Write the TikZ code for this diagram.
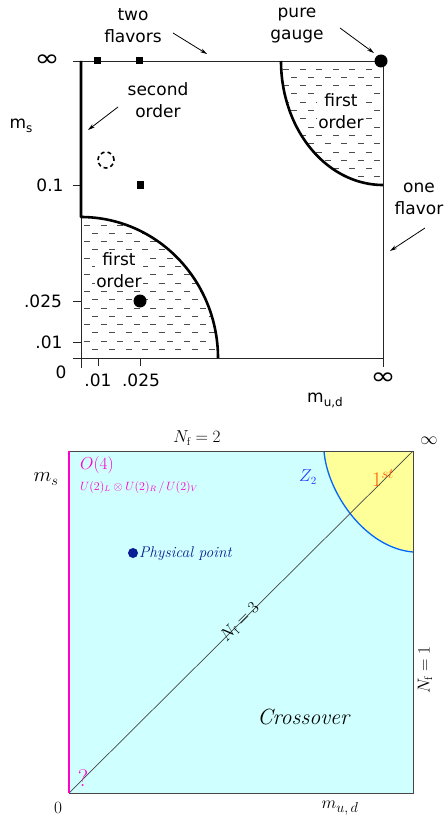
\documentclass[tikz,border=0pt]{standalone}
\usepackage{fontspec}
\usepackage{amsmath,amssymb}
\usetikzlibrary{arrows.meta}
\newfontfamily\plotfont{DejaVu Sans}
\definecolor{cyanfill}{RGB}{208,255,255}
\definecolor{yel}{RGB}{255,255,153}
\definecolor{mag}{RGB}{255,0,204}
\definecolor{curveblue}{RGB}{0,102,255}
\definecolor{zblue}{RGB}{40,60,255}
\definecolor{stcol}{RGB}{255,90,0}
\definecolor{navy}{RGB}{10,30,150}
\definecolor{framegray}{RGB}{70,70,70}
\begin{document}
\begin{tikzpicture}[x=1pt,y=-1pt,
  lbl/.style={font=\plotfont\fontsize{17}{22}\selectfont, align=center, inner sep=0pt},
  inflbl/.style={font=\plotfont\fontsize{24}{24}\selectfont, xscale=1.25, inner sep=0pt},
  thinax/.style={line width=0.9pt, black!85},
  thickln/.style={line width=2.6pt, line join=round},
  arr/.style={line width=0.8pt, -{Stealth[length=7pt,width=4pt]}},
  hatch/.style={line width=0.9pt, black!70, dash pattern=on 6pt off 10.6pt},
  mlbl/.style={inner sep=0pt, font=\fontsize{16}{16}\selectfont}]
\useasboundingbox (0,0) rectangle (446,821);
% ================= TOP PLOT =================
\coordinate (TL) at (81,61);
\coordinate (TR) at (383,61);
\coordinate (BL) at (81,358);
\coordinate (BR) at (383,358);
% hatch bottom-left
\begin{scope}
\clip (81,217) -- plot[domain=90:0,samples=40] ({81+137*cos(\x)},{358-141*sin(\x)}) -- (81,358) -- cycle;
\foreach \r in {0,...,15} {
  \pgfmathsetmacro\yy{225+8.3*\r}
  \pgfmathsetmacro\ph{mod(\r,2)*8.3}
  \draw[hatch, dash phase=\ph pt] (84,\yy) -- (383,\yy);
}
\end{scope}
% hatch top-right
\begin{scope}
\clip (281,61) -- plot[domain=0:90,samples=40] ({383-102*cos(\x)},{61+124*sin(\x)}) -- (383,61) -- cycle;
\foreach \r in {0,...,13} {
  \pgfmathsetmacro\yy{69+8.3*\r}
  \pgfmathsetmacro\ph{mod(\r,2)*8.3}
  \draw[hatch, dash phase=\ph pt] (283,\yy) -- (383,\yy);
}
\end{scope}
% axes
\draw[thinax] (73,61) -- (TR) -- (383,367);
\draw[thinax] (73,358) -- (BR);
\draw[thinax] (81,217) -- (81,368);
\draw[thinax] (73,185) -- (81,185);
\draw[thinax] (73,301) -- (81,301);
\draw[thinax] (73,342) -- (81,342);
\draw[thinax] (98,358) -- (98,366);
\draw[thinax] (140,358) -- (140,366);
% thick boundaries
\draw[thickln] (TL) -- plot[domain=90:0,samples=60] ({81+137*cos(\x)},{358-141*sin(\x)});
\draw[thickln] plot[domain=0:90,samples=60] ({383-102*cos(\x)},{61+124*sin(\x)});
% markers
\node[fill, minimum size=7pt, inner sep=0pt] (sq1) at (97,61) {};
\node[fill, minimum size=7pt, inner sep=0pt] (sq2) at (139,61) {};
\node[fill, minimum size=7pt, inner sep=0pt] (sq3) at (140,185) {};
\node[circle, fill, minimum size=13pt, inner sep=0pt] (pg) at (381,61) {};
\node[circle, fill, minimum size=13pt, inner sep=0pt] (dot) at (140,301) {};
\node[circle, draw, line width=1.6pt, dash pattern=on 4pt off 3pt, minimum size=16pt, inner sep=0pt] (dc) at (106,160) {};
% labels
\node[lbl] (twofl) at (133,26) {two\\flavors};
\node[lbl] (pure) at (297,26) {pure\\gauge};
\node[lbl] (second) at (158,100) {second\\order};
\node[lbl] (onefl) at (419,199) {one\\flavor};
\node[lbl, fill=white, inner sep=1pt] (fo1) at (341,111) {first\\order};
\node[lbl, fill=white, inner sep=1pt] (fo2) at (119,270) {first\\order};
\node[lbl] (msl) at (21,126) {m\raisebox{-4pt}{\fontsize{12}{12}\selectfont s}};
\node[inflbl] (inf1) at (47,61) {∞};
\node[inflbl] (inf2) at (383,379) {∞};
\node[lbl] (t01) at (50,185) {0.1};
\node[lbl] (t025) at (43,301) {.025};
\node[lbl] (t01b) at (49,342) {.01};
\node[lbl] (t0) at (61,372) {0};
\node[lbl] (b01) at (98,380) {.01};
\node[lbl] (b025) at (141,380) {.025};
\node[lbl] (mud) at (325,400) {m\raisebox{-4pt}{\fontsize{12}{12}\selectfont u,d}};
% arrows
\coordinate (a1s) at (173,33); \coordinate (a1e) at (207,54);
\coordinate (a2s) at (340,28); \coordinate (a2e) at (374,53);
\coordinate (a3s) at (118,107); \coordinate (a3e) at (88,130);
\coordinate (a4s) at (425,228); \coordinate (a4e) at (390,251);
\draw[arr] (a1s) -- (a1e);
\draw[arr] (a2s) -- (a2e);
\draw[arr] (a3s) -- (a3e);
\draw[arr] (a4s) -- (a4e);
% ================= BOTTOM PLOT =================
\coordinate (bTL) at (69,451);
\coordinate (bTR) at (413,451);
\coordinate (bBL) at (69,793);
\coordinate (bBR) at (413,793);
\fill[cyanfill] (bTL) rectangle (bBR);
\fill[yel] (324,451) .. controls (327,492) and (365,548) .. (413,552) -- (bTR) -- cycle;
\draw[curveblue, line width=1.3pt] (324,451) .. controls (327,492) and (365,548) .. (413,552);
\draw[framegray, line width=0.9pt] (bTL) rectangle (bBR);
\draw[framegray, line width=0.7pt] (bBL) -- (bTR);
\draw[mag, line width=2.5pt] (bTL) -- (bBL);
\node[mlbl] (nf2) at (197,438) {$N_{\mathrm{f}}=2$};
\node[mlbl, font=\fontsize{18}{18}\selectfont] (binf) at (429,441) {$\infty$};
\node[mlbl, font=\fontsize{20}{20}\selectfont] (bms) at (46,479) {$m_{\text{\fontsize{15}{15}\selectfont$s$}}$};
\node[mlbl, font=\fontsize{16}{16}\selectfont, text=mag, anchor=west] (o4) at (80,465) {$O(4)$};
\node[mlbl, font=\fontsize{11.5}{12}\selectfont, text=mag, anchor=west] (sym) at (80,487) {$U(2)_L\otimes U(2)_R\,/\,U(2)_V$};
\node[mlbl, text=zblue] (z2) at (308,477) {$Z_2$};
\node[mlbl, font=\fontsize{21}{21}\selectfont, text=stcol] (first) at (383,478) {$1^{st}$};
\node[circle, fill=navy, minimum size=10pt, inner sep=0pt] (pp) at (133,553) {};
\node[mlbl, font=\fontsize{15.5}{16}\selectfont, text=navy, anchor=west] (ppl) at (139,554) {\textit{Physical point}};
\node[mlbl, rotate=45, font=\fontsize{16}{16}\selectfont] (nf3) at (240,622) {$N_{\mathrm{f}}=3$};
\node[mlbl, font=\fontsize{22}{22}\selectfont] (cross) at (304,717) {\textit{Crossover}};
\node[mlbl, rotate=90, font=\fontsize{16}{16}\selectfont] (nf1) at (425,670) {$N_{\mathrm{f}}=1$};
\node[mlbl, font=\fontsize{18}{18}\selectfont] (b0) at (58,808) {$0$};
\node[mlbl, font=\fontsize{18}{18}\selectfont] (bmud) at (340,808) {$m_{\text{\fontsize{14}{14}\selectfont$u,d$}}$};
\node[mlbl, font=\fontsize{24}{24}\selectfont, text=mag] (q) at (83,778) {?};
\end{tikzpicture}
\end{document}
